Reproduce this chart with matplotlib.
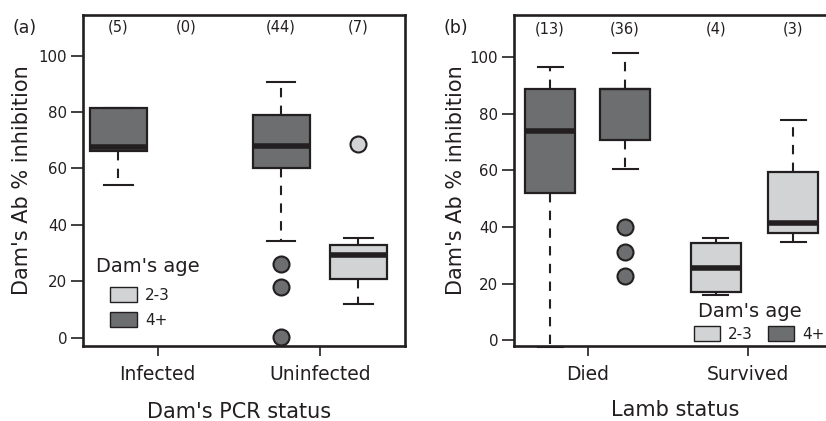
import matplotlib
matplotlib.use("Agg")
import matplotlib.pyplot as plt
from matplotlib.patches import Patch

plt.rcParams["font.family"] = ["DejaVu Sans"]

# ---------------- data ----------------
age_labels = ["2-3", "4+"]

# Panel (a): Dam's PCR status
a_groups = ["Infected", "Uninfected"]
a_counts = ["(5)", "(0)", "(44)", "(7)"]
a_age = ["4+", "2-3", "4+", "2-3"]
a_whislo = [54.0, None, 34.3, 11.8]
a_q1 = [66.3, None, 60.0, 20.8]
a_med = [67.5, None, 68.0, 29.2]
a_q3 = [81.3, None, 78.8, 32.8]
a_whishi = [81.3, None, 90.5, 35.2]
a_fliers = [[], [], [26.0, 18.0, 0.2], [68.8]]

# Panel (b): Lamb status
b_groups = ["Died", "Survived"]
b_counts = ["(13)", "(36)", "(4)", "(3)"]
b_age = ["4+", "4+", "2-3", "2-3"]
b_whislo = [-2.4, 60.6, 15.8, 34.8]
b_q1 = [52.1, 70.9, 17.0, 38.0]
b_med = [74.0, 88.7, 25.5, 41.3]
b_q3 = [88.7, 88.7, 34.4, 59.5]
b_whishi = [96.7, 101.4, 36.1, 77.9]
b_fliers = [[], [40.1, 31.1, 22.6], [], []]

# ---------------- style ----------------
DARK = "#6d6e70"
LIGHT = "#d1d3d4"
EDGE = "#231f20"
TXT = "#231f20"
age_color = {"2-3": LIGHT, "4+": DARK}

W, H = 826, 421
fig = plt.figure(figsize=(W / 100, H / 100), dpi=100)


def ax_rect(left_px, top_px, w_px, h_px):
    return [left_px / W, 1 - (top_px + h_px) / H, w_px / W, h_px / H]


def draw_panel(ax, whislo, q1, med, q3, whishi, fliers, ages, counts,
               positions, width, ticks, groups, ylim, xlabel):
    stats, pos, cols = [], [], []
    for i in range(len(q1)):
        if q1[i] is None:
            continue
        stats.append(dict(whislo=whislo[i], q1=q1[i], med=med[i], q3=q3[i],
                          whishi=whishi[i], fliers=fliers[i]))
        pos.append(positions[i])
        cols.append(age_color[ages[i]])
    res = ax.bxp(stats, positions=pos, widths=width, patch_artist=True,
                 showfliers=True, manage_ticks=False,
                 boxprops=dict(edgecolor=EDGE, linewidth=1.6),
                 medianprops=dict(color=EDGE, linewidth=4.0, solid_capstyle="butt"),
                 whiskerprops=dict(color=EDGE, linewidth=1.5, linestyle=(0, (4.5, 4.0))),
                 capprops=dict(color=EDGE, linewidth=1.5),
                 capwidths=width * 0.5,
                 flierprops=dict(marker="o", markersize=11.5, markeredgecolor=EDGE,
                                 markeredgewidth=1.5, linestyle="none"))
    for b, c in zip(res["boxes"], cols):
        b.set_facecolor(c)
    for fl, c in zip(res["fliers"], cols):
        fl.set_markerfacecolor(c)
    for m, s in zip(res["medians"], stats):
        if s["med"] == s["q3"]:
            m.set_linewidth(1.6)
    for cap in res["caps"]:
        cap.set_clip_on(False)
    for wh in res["whiskers"]:
        wh.set_clip_on(False)
    for p, t in zip(positions, counts):
        ax.text(p, 110, t, ha="center", va="center", fontsize=10.5, color=TXT)
    ax.set_xlim(0, 10)
    ax.set_ylim(*ylim)
    ax.set_xticks(ticks)
    ax.set_xticklabels(groups, fontsize=13.5, color=TXT)
    ax.set_yticks([0, 20, 40, 60, 80, 100])
    ax.set_yticklabels(["0", "20", "40", "60", "80", "100"], fontsize=10.8, color=TXT)
    ax.tick_params(axis="y", length=9, width=1.2, color=EDGE, pad=2.5)
    ax.tick_params(axis="x", length=7.5, width=1.2, color=EDGE, pad=6)
    for sp in ax.spines.values():
        sp.set_linewidth(1.9)
        sp.set_color(EDGE)
    ax.set_ylabel("Dam's Ab % inhibition", fontsize=15, color=TXT)
    ax.set_xlabel(xlabel, fontsize=15, color=TXT)
    ax.xaxis.label.set_va("center")
    ax.yaxis.label.set_va("center")


# Panel (a)
ax1 = fig.add_axes(ax_rect(83, 15, 322, 331))
draw_panel(ax1, a_whislo, a_q1, a_med, a_q3, a_whishi, a_fliers, a_age, a_counts,
           positions=[1.1, 3.2, 6.15, 8.55], width=1.77, ticks=[2.32, 7.36],
           groups=a_groups, ylim=(-3.0, 114.4), xlabel="Dam's PCR status")
ax1.yaxis.set_label_coords(-0.189, 0.5)
ax1.xaxis.set_label_coords(0.485, -0.199)

# Panel (b)
ax2 = fig.add_axes(ax_rect(514, 15, 322, 331))
draw_panel(ax2, b_whislo, b_q1, b_med, b_q3, b_whishi, b_fliers, b_age, b_counts,
           positions=[1.12, 3.45, 6.26, 8.67], width=1.55, ticks=[2.30, 7.27],
           groups=b_groups, ylim=(-2.1, 115.0), xlabel="Lamb status")
ax2.yaxis.set_label_coords(-0.18, 0.5)
ax2.xaxis.set_label_coords(0.5, -0.193)

handles = [Patch(facecolor=age_color[a], edgecolor=EDGE, linewidth=1.0) for a in age_labels]

leg1 = ax1.legend(handles, age_labels, loc="upper left", bbox_to_anchor=(0.084, 0.178),
                  frameon=False, fontsize=11, borderpad=0, borderaxespad=0,
                  handlelength=1.76, handleheight=1.15, handletextpad=0.52,
                  labelspacing=0.62)
for t in leg1.get_texts():
    t.set_color(TXT)
ax1.text(0.040, 0.239, "Dam's age", transform=ax1.transAxes, fontsize=14,
         ha="left", va="center", color=TXT)

leg2 = ax2.legend(handles, age_labels, loc="upper left", bbox_to_anchor=(0.559, 0.060),
                  frameon=False, fontsize=11, borderpad=0, borderaxespad=0, ncol=2,
                  handlelength=1.70, handleheight=1.15, handletextpad=0.55,
                  columnspacing=0.95)
for t in leg2.get_texts():
    t.set_color(TXT)
ax2.text(0.571, 0.103, "Dam's age", transform=ax2.transAxes, fontsize=14,
         ha="left", va="center", color=TXT)

fig.text(25 / W, 1 - 28 / H, "(a)", ha="center", va="center", fontsize=12.5, color=TXT)
fig.text(456 / W, 1 - 28 / H, "(b)", ha="center", va="center", fontsize=12.5, color=TXT)

fig.savefig("out.png", dpi=100)
